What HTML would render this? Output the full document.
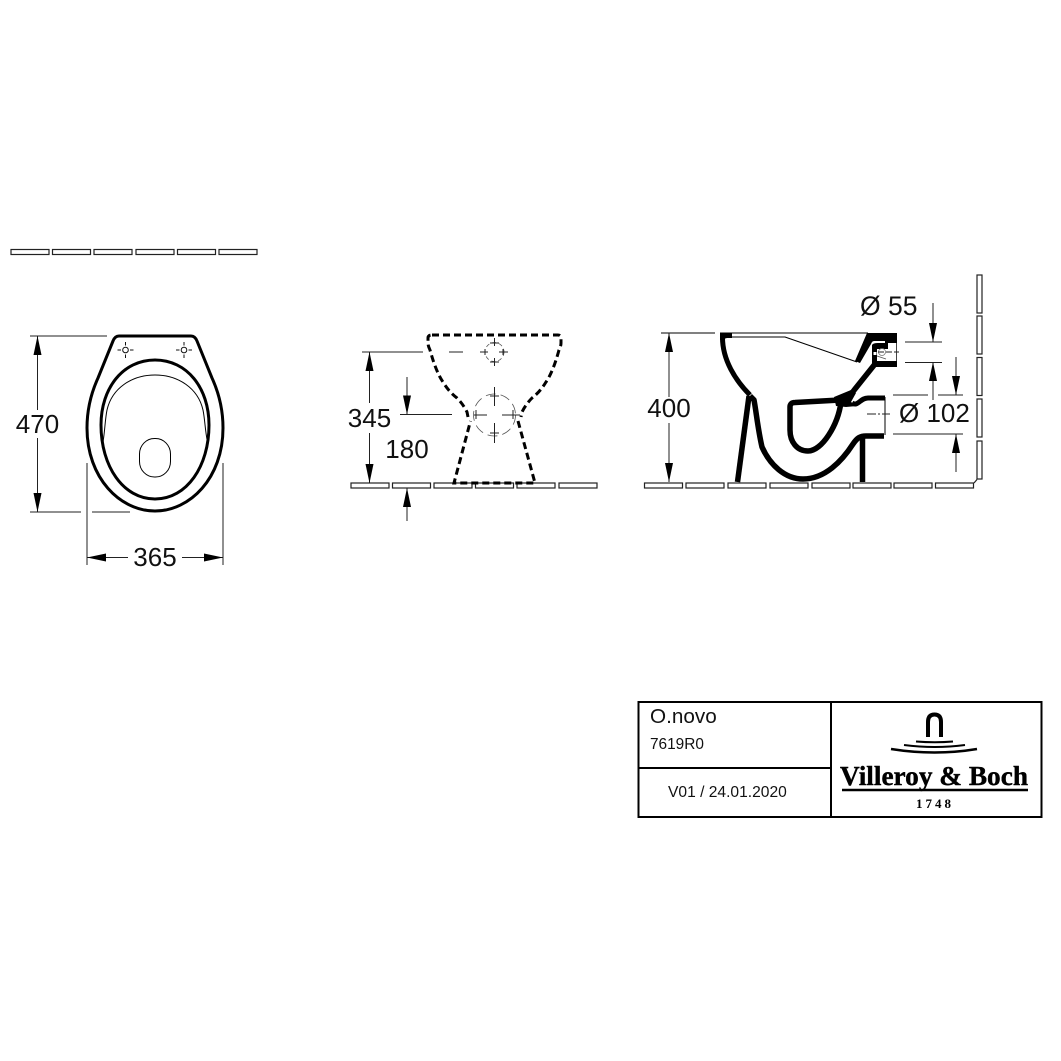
<!DOCTYPE html>
<html><head><meta charset="utf-8"><style>
html,body{margin:0;padding:0;background:#fff;width:1061px;height:1061px;overflow:hidden}
svg{display:block}
text{font-family:"Liberation Sans",sans-serif;fill:#111}
.t{font-size:26px;text-anchor:middle}
</style></head><body>
<svg width="1061" height="1061" viewBox="0 0 1061 1061" xmlns="http://www.w3.org/2000/svg">
<defs>
<path id="au" d="M0,0 L-4,19 L4,19 Z" fill="#000"/>
<g id="hole" fill="none" stroke="#111" stroke-width="1"><circle r="2.8"/><path d="M-8,0H-4.500M4.500,0H8M0,-8V-4.500M0,4.500V8"/></g>
</defs>
<rect width="1061" height="1061" fill="#fff"/>

<!-- tiles -->
<g fill="#fff" stroke="#222" stroke-width="1.2">
<rect x="11" y="249.500" width="38" height="5"/><rect x="52.500" y="249.500" width="38" height="5"/><rect x="94" y="249.500" width="38" height="5"/><rect x="136" y="249.500" width="38" height="5"/><rect x="177.500" y="249.500" width="38" height="5"/><rect x="219" y="249.500" width="38" height="5"/>
<rect x="351" y="483" width="38" height="5"/><rect x="392.500" y="483" width="38" height="5"/><rect x="434" y="483" width="38" height="5"/><rect x="475.500" y="483" width="38" height="5"/><rect x="517" y="483" width="38" height="5"/><rect x="559" y="483" width="38" height="5"/>
<rect x="644.500" y="483" width="38" height="5"/><rect x="686" y="483" width="38" height="5"/><rect x="728" y="483" width="38" height="5"/><rect x="770" y="483" width="38" height="5"/><rect x="812" y="483" width="38" height="5"/><rect x="853" y="483" width="38" height="5"/><rect x="894" y="483" width="38" height="5"/><rect x="935.500" y="483" width="38" height="5"/>
<rect x="977" y="275" width="5" height="38"/><rect x="977" y="316" width="5" height="38"/><rect x="977" y="357.500" width="5" height="38"/><rect x="977" y="399" width="5" height="38"/><rect x="977" y="441" width="5" height="38"/>
<path d="M974,483L977,479.500" fill="none"/>
</g>

<!-- PLAN VIEW -->
<g fill="none" stroke="#000">
<path stroke-width="3" d="M119,336 H191 Q195,336 197,341 L212,378 Q223,402 223,428 C223,478 190,511 155,511 C120,511 87,478 87,428 Q87,402 98,378 L113,341 Q115,336 119,336 Z"/>
<path stroke-width="3" d="M155,360 C187,360 209,388 209,425 C209,466 187,499 155,499 C123,499 101,466 101,425 C101,388 123,360 155,360 Z"/>
<path stroke-width="1" d="M103,442 C105,430 105,420 107,410 C112,388 132,375 155,375 C178,375 198,388 203,410 C205,420 205,430 207.500,442"/>
<rect x="139.500" y="438.500" width="31" height="38.500" rx="15" ry="15.500" stroke-width="1"/>
</g>
<use href="#hole" x="125.500" y="350"/><use href="#hole" x="184" y="350"/>
<g stroke="#222" stroke-width="1" fill="none">
<path d="M30,336H107M30,512H81M92,512H130M87,463V565M223,463V565"/>
<path d="M37.500,336V410M37.500,438V512M87,557.500H128M182,557.500H223"/>
</g>
<use href="#au" transform="translate(37.500,336)"/>
<use href="#au" transform="translate(37.500,512) rotate(180)"/>
<use href="#au" transform="translate(87,557.500) rotate(-90)"/>
<use href="#au" transform="translate(223,557.500) rotate(90)"/>
<text class="t" x="37.500" y="433">470</text>
<text class="t" x="155" y="566">365</text>

<!-- FRONT VIEW -->
<g fill="none" stroke="#000">
<path stroke-width="3" stroke-dasharray="7,4" d="M432,335 H558 Q561,335 561,338 V343 Q561,346 559,350 Q553,372 546,382 Q540,392 532,398 Q526,404 522,412 L521,417 M518,421 L535,483 H454 L470.500,421 M468,417 L467,412 Q463,404 457,398 Q449,392 443,382 Q436,372 430,350 Q428,346 428,343 V338 Q428,335 432,335"/>
<circle cx="494.500" cy="352" r="9.500" stroke="#555" stroke-width="0.8" stroke-dasharray="4,3"/>
<circle cx="494.500" cy="415" r="21" stroke="#555" stroke-width="0.8" stroke-dasharray="10,5"/>
</g>
<g stroke="#222" stroke-width="1" fill="none">
<path d="M449,352H463M480,352H488M499,352H508M494.500,338V346M494.500,358V366M485,349V355M503,349V355M490,343H499M490,362H499"/>
<path d="M474,415H487M502,415H520M494.500,387V406M494.500,423V443M476,410V419M513,410V419M490,396H499M490,433H499"/>
<path d="M362,352H423M400,414.500H452M369.500,352V403M369.500,433V483M407,377V414M407,488V521"/>
</g>
<use href="#au" transform="translate(369.500,352)"/>
<use href="#au" transform="translate(369.500,483) rotate(180)"/>
<use href="#au" transform="translate(407,414.500) rotate(180)"/>
<use href="#au" transform="translate(407,488)"/>
<text class="t" x="369.500" y="427">345</text>
<text class="t" x="407" y="458">180</text>

<!-- SECTION VIEW -->
<g fill="none" stroke="#000" stroke-linejoin="round">
<path stroke-width="1" d="M661,333H715M720,333H868"/>
<path stroke-width="1" d="M732,337H785L857,362"/>
<path stroke-width="5" d="M722.500,336 C722,360 736,381 750,395"/>
<path stroke-width="5.500" d="M749,396 L737.500,482"/>
<path stroke-width="5.500" d="M750,396 L754,400 C756,410 758,430 762,447 C770,465 785,479 803,479 C825,479 842,461 853,444 C857,438 860,436 866,436 H884"/>
<path stroke-width="5.500" d="M862.500,436V482"/>
<path stroke-width="5" d="M852,403 C858,407 860,398 868,398 H885"/>
<path stroke-width="5.500" d="M840,400 L795,402.500 Q790,402.500 790,407 V430 C790,442 797,451 808,451 C822,451 838,425 841,402"/>
<path stroke-width="5.500" d="M838,400 C846,398 850,396 855,389 L875,364"/>
<path stroke-width="1" d="M885,397V435"/>
</g>
<path fill="#000" d="M720,333H732V338H727L720,340Z"/>
<path fill="#000" d="M834,397 L851,390 L856,393 L851,402 L857,406 L846,407 L836,406Z"/>
<path fill="#000" d="M867,333H897V343H885V341H874Q872,341 871,344L860,363L855,361Z"/>
<path fill="#000" d="M872,345 Q873,343 878,343H888V361H897V367H872Z"/>
<rect x="877" y="349" width="11" height="12" fill="#fff"/>
<rect x="873.500" y="352" width="3" height="3" fill="#fff"/>
<path d="M896.500,343V361" stroke="#444" stroke-width="1"/>
<circle cx="882" cy="352" r="3.500" fill="none" stroke="#777" stroke-width="0.8"/>
<path d="M877,356L886,359" fill="none" stroke="#555" stroke-width="0.8"/>
<g stroke="#222" stroke-width="1" fill="none">
<path d="M878,352H899" stroke-dasharray="6,2"/>
<path d="M867,414H890" stroke-dasharray="9,2,2,2"/>
<path d="M669,333V397M669,423V482"/>
<path d="M905,342H942M905,362.500H942M933,303V342M933,362V400"/>
<path d="M893,395H928M938,395H963M893,434H963M956,357V395M956,434V472"/>
</g>
<use href="#au" transform="translate(669,333)"/>
<use href="#au" transform="translate(669,482) rotate(180)"/>
<use href="#au" transform="translate(933,342) rotate(180)"/>
<use href="#au" transform="translate(933,362)"/>
<use href="#au" transform="translate(956,395) rotate(180)"/>
<use href="#au" transform="translate(956,434)"/>
<text class="t" x="669" y="417">400</text>
<text x="860" y="315" font-size="26.500">Ø 55</text>
<text x="899" y="422" font-size="26">Ø 102</text>

<!-- TITLE BLOCK -->
<g fill="none" stroke="#000" stroke-width="2">
<rect x="638.500" y="702" width="403" height="115"/>
<path d="M831,702V817M638,768H831"/>
</g>
<text x="650" y="723" font-size="20.700">O.novo</text>
<text x="650" y="749" font-size="15.400">7619R0</text>
<text x="668" y="797" font-size="15.600">V01 / 24.01.2020</text>
<path d="M928,737V722Q928,714.500 934.500,714.500Q941,714.500 941,722V737" fill="none" stroke="#000" stroke-width="4"/>
<g fill="none" stroke="#000">
<path stroke-width="2" d="M916,741.500Q935,743 953,741.500"/>
<path stroke-width="2" d="M904,745Q935,749 965,745"/>
<path stroke-width="2.600" d="M891,749Q935,756 977,749"/>
</g>
<text x="840" y="785" font-size="27" textLength="188" lengthAdjust="spacingAndGlyphs" stroke="#000" stroke-width="0.400" style="font-family:'Liberation Serif',serif;font-weight:bold;fill:#000">Villeroy &amp; Boch</text>
<path d="M842,790H1028" stroke="#000" stroke-width="2.400"/>
<text x="916" y="808" font-size="13" letter-spacing="3" style="font-family:'Liberation Serif',serif;font-weight:bold;fill:#000">1748</text>
</svg>
</body></html>
